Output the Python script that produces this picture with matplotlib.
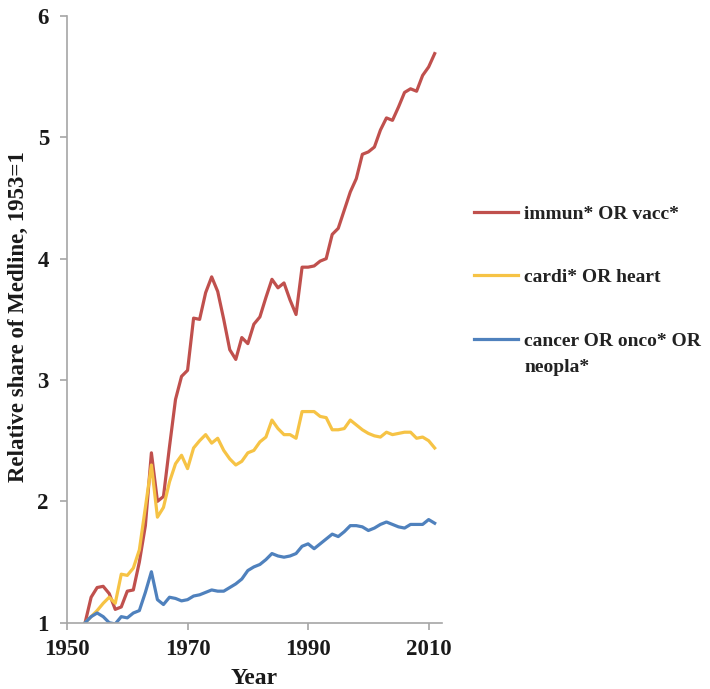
import numpy as np
import matplotlib
matplotlib.use("Agg")
import matplotlib.pyplot as plt

# Relative share of Medline records per topic, normalised to 1953 = 1
years = list(range(1953, 2012))

immun_vacc = [
    1.00, 1.21, 1.29, 1.30, 1.24, 1.11, 1.13, 1.26, 1.27, 1.50,
    1.80, 2.40, 2.00, 2.04, 2.45, 2.84, 3.03, 3.08, 3.51, 3.50,
    3.72, 3.85, 3.73, 3.50, 3.25, 3.17, 3.35, 3.30, 3.46, 3.52,
    3.68, 3.83, 3.76, 3.80, 3.66, 3.54, 3.93, 3.93, 3.94, 3.98,
    4.00, 4.20, 4.25, 4.40, 4.55, 4.66, 4.86, 4.88, 4.92, 5.06,
    5.16, 5.14, 5.25, 5.37, 5.40, 5.38, 5.51, 5.58, 5.69,
]

cardi_heart = [
    1.00, 1.05, 1.10, 1.16, 1.21, 1.16, 1.40, 1.39, 1.45, 1.60,
    1.95, 2.30, 1.87, 1.95, 2.16, 2.31, 2.38, 2.27, 2.44, 2.50,
    2.55, 2.48, 2.52, 2.42, 2.35, 2.30, 2.33, 2.40, 2.42, 2.49,
    2.53, 2.67, 2.60, 2.55, 2.55, 2.52, 2.74, 2.74, 2.74, 2.70,
    2.69, 2.59, 2.59, 2.60, 2.67, 2.63, 2.59, 2.56, 2.54, 2.53,
    2.57, 2.55, 2.56, 2.57, 2.57, 2.52, 2.53, 2.50, 2.44,
]

cancer_onco = [
    1.00, 1.05, 1.08, 1.05, 1.00, 0.99, 1.05, 1.04, 1.08, 1.10,
    1.25, 1.42, 1.19, 1.15, 1.21, 1.20, 1.18, 1.19, 1.22, 1.23,
    1.25, 1.27, 1.26, 1.26, 1.29, 1.32, 1.36, 1.43, 1.46, 1.48,
    1.52, 1.57, 1.55, 1.54, 1.55, 1.57, 1.63, 1.65, 1.61, 1.65,
    1.69, 1.73, 1.71, 1.75, 1.80, 1.80, 1.79, 1.76, 1.78, 1.81,
    1.83, 1.81, 1.79, 1.78, 1.81, 1.81, 1.81, 1.85, 1.82,
]

series_labels = ["immun* OR vacc*", "cardi* OR heart", "cancer OR onco* OR"]
label_continuation = "neopla*"
series_colors = ["#C0504D", "#F6C345", "#4F81BD"]
x_ticks = [1950, 1970, 1990, 2010]
y_ticks = [1, 2, 3, 4, 5, 6]

serif = ["Liberation Serif", "DejaVu Serif"]
plt.rcParams["font.family"] = serif
text_color = "#1a1a1a"
legend_color = "#222222"

fig = plt.figure(figsize=(7.10, 6.89), dpi=100)
ax = fig.add_axes([0.0944, 0.0962, 0.528, 0.8806])

for vals, lab, col in zip([immun_vacc, cardi_heart, cancer_onco], series_labels, series_colors):
    ax.plot(years, vals, color=col, lw=2.3, label=lab, solid_joinstyle="round")

ax.set_xlim(1950, 2012.2)
ax.set_ylim(1, 6)
ax.set_xticks(x_ticks)
ax.set_yticks(y_ticks)

for side in ("top", "right"):
    ax.spines[side].set_visible(False)
for side in ("left", "bottom"):
    ax.spines[side].set_color("#A6A6A6")
    ax.spines[side].set_linewidth(1.2)
ax.tick_params(axis="both", direction="out", length=5, width=1.2, color="#A6A6A6",
               labelsize=16.5, labelcolor=text_color)
for t in ax.get_xticklabels() + ax.get_yticklabels():
    t.set_fontweight("bold")
ax.tick_params(axis="x", pad=7)
ax.tick_params(axis="y", pad=8)

ax.set_xlabel("Year", fontsize=17, fontweight="bold", color=text_color)
ax.xaxis.set_label_coords(0.5, -0.074)
ax.set_ylabel("Relative share of Medline, 1953=1", fontsize=16.5, fontweight="bold",
              color=text_color)
ax.yaxis.set_label_coords(-0.102, 0.505)

leg = ax.legend(loc="upper left", bbox_to_anchor=(1.085, 0.688), frameon=False,
                handlelength=2.3, handletextpad=0.3, labelspacing=2.35,
                borderaxespad=0.0, borderpad=0.0,
                prop={"family": serif, "weight": "bold", "size": 14})
for t in leg.get_texts():
    t.set_color(legend_color)

# second line of the third legend entry, set under its first line
fig.draw_without_rendering()
first_line = leg.get_texts()[2].get_window_extent()
fx, fy = fig.transFigure.inverted().transform((first_line.x0, first_line.y0 - 26))
fig.text(fx, fy, label_continuation, ha="left", va="bottom",
         fontsize=14, fontweight="bold", color=legend_color)

fig.savefig("out.png", dpi=100)
